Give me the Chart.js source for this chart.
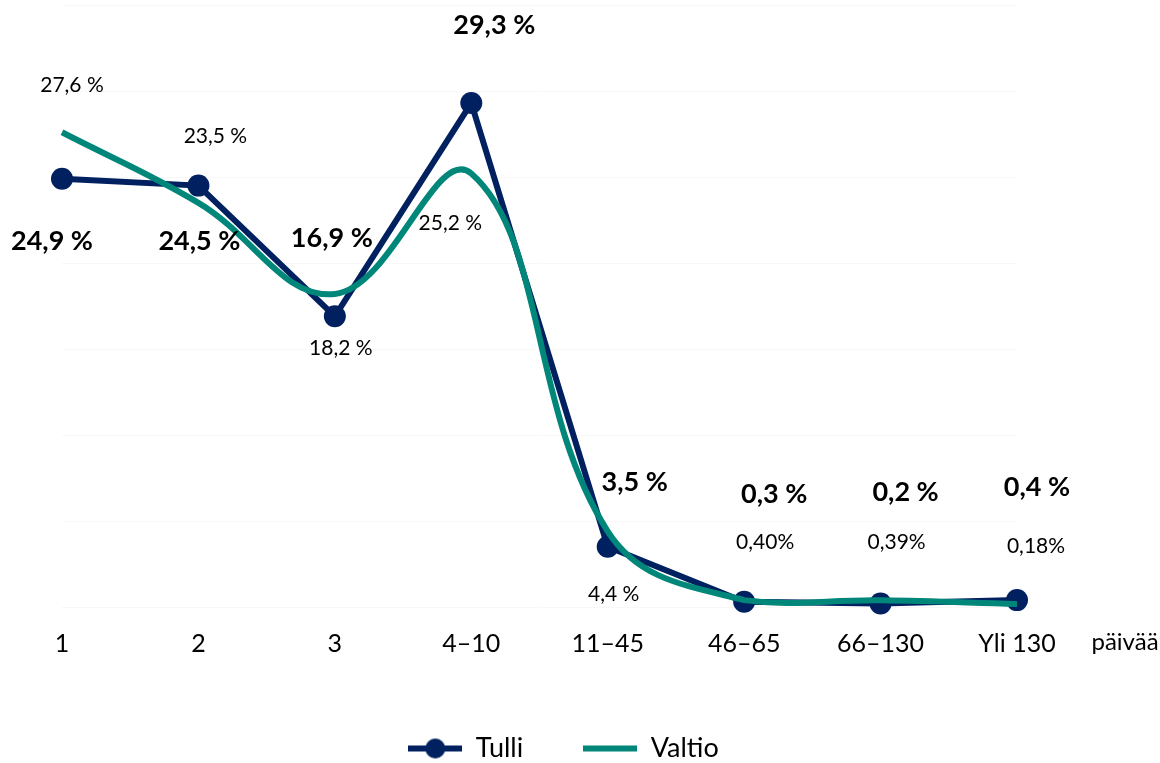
<!DOCTYPE html>
<html>
<head>
<meta charset="utf-8">
<script src="https://cdn.jsdelivr.net/npm/chart.js@4.4.0/dist/chart.umd.min.js"></script>
<style>
  html, body { margin: 0; padding: 0; background: #fff; }
  #wrap { width: 1160px; height: 763px; }
</style>
</head>
<body>
<div id="wrap"><canvas id="viive"></canvas></div>
<script>
// payment delay categories (days)
const categories = ["1", "2", "3", "4–10", "11–45", "46–65", "66–130", "Yli 130"];
const tulli = [24.9, 24.5, 16.9, 29.3, 3.5, 0.3, 0.2, 0.4];
const valtio = [27.6, 23.5, 18.2, 25.2, 4.4, 0.40, 0.39, 0.18];

// label offsets from the point, in px
const tulliLabelShift = [[-10, 63], [1, 56], [-3, -78], [23, -78], [27, -65], [30, -108], [25, -111], [20, -113]];
const valtioLabelShift = [[10, -47], [17, -67], [6, 54], [-21, 50], [6, 63], [21, -58], [16, -58], [19, -58]];

const NAVY = "#002060";
const TEAL = "#00877a";
const FONT = "Lato, 'Open Sans', sans-serif";

function fmtTulli(v) {
  return v.toFixed(1).replace(".", ",") + " %";
}
function fmtValtio(v) {
  if (v < 1) return v.toFixed(2).replace(".", ",") + "%";
  return v.toFixed(1).replace(".", ",") + " %";
}

// legend symbols: line with a dot, and a plain line
function legendIcon(color, dot) {
  const c = document.createElement("canvas");
  c.width = 54; c.height = 22;
  const g = c.getContext("2d");
  g.strokeStyle = color;
  g.lineWidth = 6;
  g.beginPath();
  g.moveTo(0, 11);
  g.lineTo(54, 11);
  g.stroke();
  if (dot) {
    g.fillStyle = color;
    g.beginPath();
    g.arc(27, 11, 10, 0, Math.PI * 2);
    g.fill();
  }
  return c;
}
const icons = [legendIcon(NAVY, true), legendIcon(TEAL, false)];

// nudge the legend a bit to the right of the plot centre
const legendNudge = {
  id: "legendNudge",
  afterLayout(chart) {
    if (chart.legend) {
      chart.legend.left += 24;
      chart.legend.right += 24;
    }
  }
};

const valueLabels = {
  id: "valueLabels",
  afterDatasetsDraw(chart) {
    const ctx = chart.ctx;
    ctx.save();
    ctx.textAlign = "center";
    ctx.textBaseline = "middle";
    ctx.fillStyle = "#000";
    chart.data.datasets.forEach(function (ds, di) {
      const meta = chart.getDatasetMeta(di);
      const shift = di === 0 ? tulliLabelShift : valtioLabelShift;
      ctx.font = di === 0 ? "bold 27px " + FONT : "21px " + FONT;
      meta.data.forEach(function (pt, i) {
        const txt = di === 0 ? fmtTulli(ds.data[i]) : fmtValtio(ds.data[i]);
        ctx.fillText(txt, pt.x + shift[i][0], pt.y + shift[i][1]);
      });
    });
    // unit text after the last category
    const xs = chart.scales.x;
    ctx.font = "24px " + FONT;
    ctx.fillText("päivää", xs.right + 108, 642);
    ctx.restore();
  }
};

new Chart(document.getElementById("viive").getContext("2d"), {
  type: "line",
  data: {
    labels: categories,
    datasets: [
      {
        label: "Tulli",
        data: tulli,
        borderColor: NAVY,
        backgroundColor: NAVY,
        borderWidth: 6,
        pointRadius: 11,
        pointHoverRadius: 11,
        pointBorderWidth: 0,
        pointBackgroundColor: NAVY,
        tension: 0,
        fill: false,
        clip: false,
        order: 1,
      },
      {
        label: "Valtio",
        data: valtio,
        borderColor: TEAL,
        backgroundColor: TEAL,
        borderWidth: 6,
        pointRadius: 0,
        tension: 0.4,
        fill: false,
        clip: false,
        order: 0,
      },
    ],
  },
  options: {
    responsive: true,
    maintainAspectRatio: false,
    animation: false,
    layout: { autoPadding: false, padding: { top: 5, left: 62, right: 143, bottom: -9 } },
    scales: {
      x: {
        offset: false,
        grid: { display: false },
        border: { display: false },
        ticks: { color: "#000", font: { family: FONT, size: 25 }, padding: 14 },
        afterFit: function (s) { s.height = 68; },
      },
      y: {
        min: 0,
        max: 35,
        ticks: { display: false, stepSize: 5 },
        grid: { color: "#f8f8f8", drawTicks: false },
        border: { display: false },
      },
    },
    plugins: {
      tooltip: { enabled: false },
      legend: {
        position: "bottom",
        labels: {
          color: "#000",
          font: { family: FONT, size: 27 },
          usePointStyle: true,
          pointStyleWidth: 54,
          padding: 60,
          sort: function (a, b) { return a.datasetIndex - b.datasetIndex; },
          generateLabels: function (chart) {
            const items = Chart.defaults.plugins.legend.labels.generateLabels(chart);
            items.forEach(function (it) { it.pointStyle = icons[it.datasetIndex]; });
            return items;
          },
        },
      },
    },
  },
  plugins: [valueLabels, legendNudge],
});
</script>
</body>
</html>
